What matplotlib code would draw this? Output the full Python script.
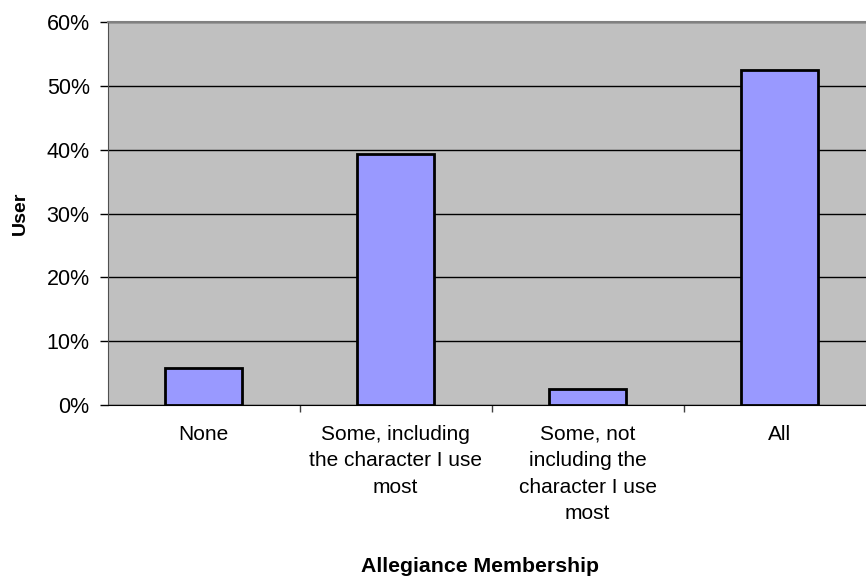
import matplotlib.pyplot as plt
from matplotlib.ticker import FixedLocator, NullFormatter, PercentFormatter

categories = ['None', 'Some, including\nthe character I use\nmost',
              'Some, not\nincluding the\ncharacter I use\nmost', 'All']
shares = [5.7, 39.3, 2.5, 52.5]   # percent of users
y_ticks = [0, 10, 20, 30, 40, 50, 60]

plt.rcParams['font.family'] = ['Liberation Sans', 'DejaVu Sans']

fig = plt.figure(figsize=(8.66, 5.84), dpi=100)
ax = fig.add_axes([0.1244, 0.307, 0.8868, 0.6548])
ax.set_facecolor('#C0C0C0')

x = list(range(len(categories)))
ax.bar(x, shares, width=0.4, color='#9999FF', edgecolor='black', linewidth=2, zorder=3)

ax.set_xlim(-0.5, len(categories) - 0.5)
ax.set_ylim(0, 60)
ax.set_yticks(y_ticks)
ax.yaxis.set_major_formatter(PercentFormatter(decimals=0))
ax.grid(axis='y', color='black', linewidth=1, zorder=1)
ax.set_axisbelow(True)

# category labels centred, ticks at the category boundaries
ax.xaxis.set_major_locator(FixedLocator([i + 0.5 for i in x[:-1]]))
ax.xaxis.set_major_formatter(NullFormatter())
for i, lab in zip(x, categories):
    ax.text(i, -0.052, lab, transform=ax.get_xaxis_transform(), ha='center', va='top',
            fontsize=15, linespacing=1.5)

ax.tick_params(axis='y', length=6, width=1, pad=7, labelsize=15.5, color='black')
ax.tick_params(axis='x', length=5, width=1, color='#404040')

for side in ['top', 'right']:
    ax.spines[side].set_color('#808080')
    ax.spines[side].set_linewidth(1.5)
ax.spines['left'].set_color('#505050')
ax.spines['bottom'].set_color('black')

ax.set_ylabel('User', fontsize=14, fontweight='bold')
ax.yaxis.set_label_coords(-79 / 768, 0.5)
fig.text(480 / 866, 1 - 566 / 584, 'Allegiance Membership', ha='center', va='center',
         fontsize=15.3, fontweight='bold')

fig.savefig('out.png', dpi=100)
